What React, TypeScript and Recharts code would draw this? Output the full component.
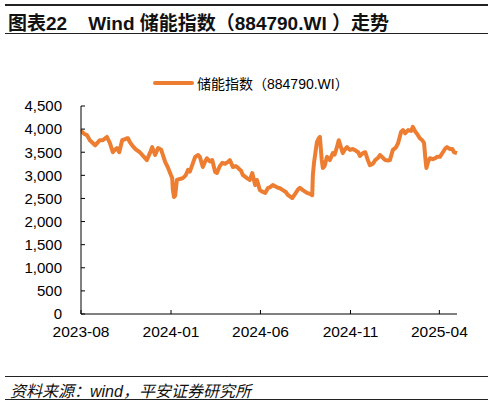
import React from 'react';
import { LineChart, Line, XAxis, YAxis, Legend } from 'recharts';

const dates = [
  '2023-08-01', '2023-08-03', '2023-08-06', '2023-08-11', '2023-08-16', '2023-08-21', '2023-08-25', '2023-08-30',
  '2023-09-02', '2023-09-07', '2023-09-11', '2023-09-14', '2023-09-19', '2023-09-24', '2023-09-28', '2023-10-01',
  '2023-10-05', '2023-10-10', '2023-10-15', '2023-10-18', '2023-10-20', '2023-10-23', '2023-10-28', '2023-11-02',
  '2023-11-09', '2023-11-16', '2023-11-21', '2023-11-26', '2023-11-30', '2023-12-05', '2023-12-10', '2023-12-15',
  '2023-12-18', '2023-12-22', '2023-12-27', '2024-01-01', '2024-01-03', '2024-01-04', '2024-01-06', '2024-01-08',
  '2024-01-11', '2024-01-16', '2024-01-21', '2024-01-26', '2024-01-30', '2024-02-02', '2024-02-06', '2024-02-11',
  '2024-02-16', '2024-02-19', '2024-02-24', '2024-02-28', '2024-03-02', '2024-03-07', '2024-03-11', '2024-03-16',
  '2024-03-19', '2024-03-24', '2024-03-28', '2024-04-02', '2024-04-07', '2024-04-10', '2024-04-15', '2024-04-20',
  '2024-04-24', '2024-04-29', '2024-05-02', '2024-05-09', '2024-05-14', '2024-05-18', '2024-05-23', '2024-05-26',
  '2024-05-31', '2024-06-05', '2024-06-09', '2024-06-14', '2024-06-17', '2024-06-22', '2024-06-29', '2024-07-04',
  '2024-07-09', '2024-07-14', '2024-07-18', '2024-07-25', '2024-07-30', '2024-08-04', '2024-08-07', '2024-08-12',
  '2024-08-19', '2024-08-24', '2024-08-28', '2024-08-29', '2024-08-31', '2024-09-03', '2024-09-05', '2024-09-08',
  '2024-09-10', '2024-09-13', '2024-09-15', '2024-09-18', '2024-09-22', '2024-09-27', '2024-10-02', '2024-10-05',
  '2024-10-09', '2024-10-12', '2024-10-16', '2024-10-19', '2024-10-22', '2024-10-26', '2024-10-31', '2024-11-05',
  '2024-11-08', '2024-11-14', '2024-11-17', '2024-11-22', '2024-11-26', '2024-11-30', '2024-12-04', '2024-12-09',
  '2024-12-13', '2024-12-18', '2024-12-21', '2024-12-26', '2024-12-30', '2025-01-04', '2025-01-07', '2025-01-12',
  '2025-01-17', '2025-01-21', '2025-01-26', '2025-01-29', '2025-02-02', '2025-02-07', '2025-02-12', '2025-02-15',
  '2025-02-19', '2025-02-22', '2025-02-27', '2025-03-03', '2025-03-06', '2025-03-08', '2025-03-10', '2025-03-13',
  '2025-03-16', '2025-03-21', '2025-03-25', '2025-03-28', '2025-04-02', '2025-04-07', '2025-04-11', '2025-04-14',
  '2025-04-19', '2025-04-23', '2025-04-26', '2025-05-01',
];

const indexValues = [
  3930, 3940, 3900, 3870, 3760, 3700, 3650, 3720,
  3760, 3760, 3800, 3830, 3700, 3500, 3560, 3590,
  3500, 3760, 3780, 3800, 3800, 3720, 3630, 3560,
  3500, 3400, 3330, 3480, 3610, 3440, 3590, 3560,
  3450, 3290, 3160, 3000, 2940, 2700, 2530, 2560,
  2900, 2920, 2940, 3000, 3120, 3080, 3220, 3400,
  3440, 3400, 3180, 3300, 3370, 3300, 3330, 3070,
  3050, 3200, 3270, 3250, 3290, 3330, 3180, 3200,
  3160, 3100, 3010, 2940, 2900, 3050, 2790, 2900,
  2680, 2640, 2620, 2730, 2740, 2790, 2740, 2720,
  2680, 2640, 2570, 2510, 2600, 2700, 2730, 2680,
  2620, 2600, 2570, 3000, 3270, 3550, 3720, 3800,
  3830, 3350, 3160, 3200, 3400, 3330, 3480, 3450,
  3610, 3760, 3600, 3480, 3550, 3610, 3550, 3570,
  3550, 3500, 3420, 3480, 3500, 3350, 3220, 3250,
  3330, 3380, 3440, 3380, 3330, 3320, 3330, 3550,
  3600, 3700, 3940, 3980, 3910, 3980, 3960, 4050,
  3950, 3900, 3800, 3760, 3700, 3400, 3160, 3300,
  3370, 3350, 3370, 3400, 3400, 3500, 3580, 3610,
  3570, 3570, 3500, 3480,
];

const xTickLabels = ['2023-08', '2024-01', '2024-06', '2024-11', '2025-04'];
const yTicks = [0, 500, 1000, 1500, 2000, 2500, 3000, 3500, 4000, 4500];
const seriesName = '储能指数（884790.WI）';

const toTime = (s: string) => Date.parse(s.length === 7 ? s + '-01' : s);
const data = dates.map((d, i) => ({ t: toTime(d), v: indexValues[i] }));
const xTicks = xTickLabels.map(toTime);
const xDomain = [toTime('2023-08-01'), toTime('2025-05-01')];

const fmtMonth = (t: number) => {
  const d = new Date(t);
  return `${d.getUTCFullYear()}-${String(d.getUTCMonth() + 1).padStart(2, '0')}`;
};
const fmtNum = (v: number) => v.toLocaleString('en-US');

const ORANGE = '#ED7D31';
const FONT = '"Liberation Sans", Arial, "Noto Sans CJK SC", sans-serif';

const LegendContent = () => (
  <div style={{ display: 'flex', alignItems: 'center', marginLeft: 153, fontFamily: FONT, fontSize: 14, color: '#000' }}>
    <span style={{ display: 'inline-block', width: 41, height: 4, borderRadius: 2, background: ORANGE, marginRight: 3 }} />
    <span>{seriesName}</span>
  </div>
);

const App = () => {
  return (
    <div style={{ position: 'absolute', left: 0, top: 0, width: 494, height: 407, background: '#fff', fontFamily: FONT }}>
      {/* Title block */}
      <div style={{ position: 'absolute', left: 5, top: 4, width: 483, height: 2, background: '#222' }} />
      <div style={{ position: 'absolute', left: 8, top: 8, fontSize: 19, fontWeight: 'bold', color: '#111', whiteSpace: 'pre' }}>
        {'图表22    Wind 储能指数（884790.WI ）走势'}
      </div>
      <div style={{ position: 'absolute', left: 5, top: 33, width: 483, height: 1.3, background: '#222' }} />

      <div style={{ position: 'absolute', left: 0, top: 0 }}>
        <LineChart width={494} height={407} data={data} margin={{ top: 106, right: 37, bottom: 63, left: 0 }}>
          <XAxis
            dataKey="t"
            type="number"
            scale="time"
            domain={xDomain}
            ticks={xTicks}
            tickFormatter={fmtMonth}
            stroke="#000"
            tickSize={-4}
            tickMargin={16}
            height={30}
            interval={0}
            tick={{ fill: '#000', fontSize: 15.5, fontFamily: FONT }}
          />
          <YAxis
            type="number"
            domain={[0, 4500]}
            ticks={yTicks}
            tickFormatter={fmtNum}
            stroke="#000"
            tickSize={-4}
            tickMargin={23}
            width={81}
            interval={0}
            tick={{ fill: '#000', fontSize: 15, fontFamily: FONT }}
          />
          <Legend
            layout="horizontal"
            verticalAlign="middle"
            align="center"
            wrapperStyle={{ top: 73, left: 0, width: 494 }}
            content={<LegendContent />}
          />
          <Line
            type="linear"
            dataKey="v"
            name={seriesName}
            stroke={ORANGE}
            strokeWidth={4}
            strokeLinejoin="round"
            dot={false}
            isAnimationActive={false}
          />
        </LineChart>
      </div>

      {/* Source footer */}
      <div style={{ position: 'absolute', left: 5, top: 376, width: 483, height: 1.3, background: '#222' }} />
      <div style={{ position: 'absolute', left: 10, top: 378, fontSize: 16, fontStyle: 'italic', color: '#111', whiteSpace: 'pre' }}>
        资料来源：wind，平安证券研究所
      </div>
      <div style={{ position: 'absolute', left: 5, top: 399, width: 483, height: 1.3, background: '#222' }} />
    </div>
  );
};

export default App;
